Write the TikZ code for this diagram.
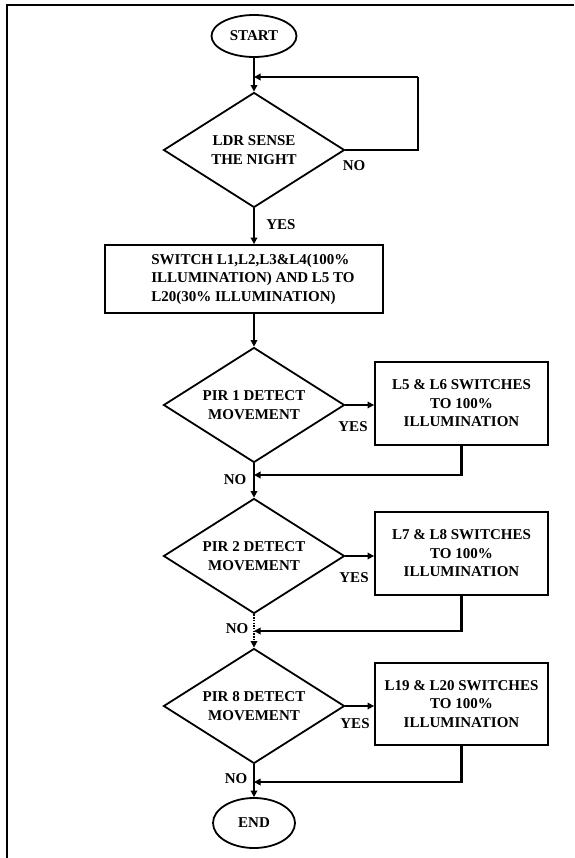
\documentclass[tikz,border=0pt]{standalone}
\usepackage{fontspec}
\setmainfont{Liberation Serif}
\usetikzlibrary{shapes.geometric,arrows.meta}
\begin{document}
\begin{tikzpicture}[x=1pt,y=-1pt,
  every node/.style={font=\fontsize{15}{18.5}\selectfont\bfseries, inner sep=0pt},
  term/.style={draw, line width=1.8pt, ellipse},
  decide/.style={draw, line width=1.8pt, diamond, aspect=1.57, minimum width=181pt, minimum height=115pt, align=center},
  procbox/.style={draw, line width=1.8pt, rectangle, align=center},
  flow/.style={line width=2.6pt, -{Triangle[length=6.5pt,width=6.5pt]}},
  plain/.style={line width=2.6pt},
  lbl/.style={font=\fontsize{15}{16}\selectfont\bfseries},
  frame/.style={line width=2pt, black}
]
\useasboundingbox (0,0) rectangle (574,858);
\draw[frame] (7,858) -- (7,5) -- (574,5);

\node[term, minimum width=85pt, minimum height=42pt] (start) at (254,36) {START};
\node[decide] (d1) at (254,150) {LDR SENSE\\THE NIGHT};
\node[procbox, minimum width=278pt, minimum height=68pt] (b1) at (244,279)
  {\hspace*{18pt}\begin{tabular}{@{}l@{}}SWITCH L1,L2,L3\&L4(100\%\\ILLUMINATION) AND L5 TO\\L20(30\% ILLUMINATION)\end{tabular}};
\node[decide] (d2) at (254,405) {PIR 1 DETECT\\MOVEMENT};
\node[procbox, minimum width=173pt, minimum height=83pt] (b2) at (461.5,403.5) {L5 \& L6 SWITCHES\\TO 100\%\\ILLUMINATION};
\node[decide] (d3) at (254,556) {PIR 2 DETECT\\MOVEMENT};
\node[procbox, minimum width=173pt, minimum height=83pt] (b3) at (461.5,553.5) {L7 \& L8 SWITCHES\\TO 100\%\\ILLUMINATION};
\node[decide] (d4) at (254,706) {PIR 8 DETECT\\MOVEMENT};
\node[procbox, minimum width=173pt, minimum height=82pt] (b4) at (461.5,704) {L19 \& L20 SWITCHES\\TO 100\%\\ILLUMINATION};
\node[term, minimum width=82pt, minimum height=50pt] (end) at (254,823) {END};

\coordinate (j1) at (254,77);
\coordinate (lp) at (418,77);
\coordinate (m2) at (254,475);
\coordinate (m3) at (254,631);
\coordinate (m4) at (254,782);

% connectors
\draw[flow] (start.south) -- (d1.north);
\draw[plain] (d1.east) -| (lp);
\draw[flow] (lp) -- (j1);
\draw[flow] (d1.south) -- (b1.north -| d1.south);
\draw[flow] (b1.south -| d1.south) -- (d2.north);
\draw[flow] (d2.east) -- (d2.east -| b2.west);
\draw[flow] (b2.south) |- (m2);
\draw[flow] (d2.south) -- (d3.north);
\draw[flow] (d3.east) -- (d3.east -| b3.west);
\draw[flow] (b3.south) |- (m3);
\draw[line width=2.6pt, dash pattern=on 1.5pt off 1.2pt, -{Triangle[length=6.5pt,width=6.5pt]}] (d3.south) -- (d4.north);
\draw[flow] (d4.east) -- (d4.east -| b4.west);
\draw[flow] (b4.south) |- (m4);
\draw[flow] (d4.south) -- (end.north);

% labels
\node[lbl] (no1) at (354,166) {NO};
\node[lbl] (yes1) at (281,225) {YES};
\node[lbl] (yes2) at (353,427) {YES};
\node[lbl] (no2) at (235,480) {NO};
\node[lbl] (yes3) at (354,578) {YES};
\node[lbl] (no3) at (237,629) {NO};
\node[lbl] (yes4) at (355,724) {YES};
\node[lbl] (no4) at (236,779) {NO};
\end{tikzpicture}
\end{document}
